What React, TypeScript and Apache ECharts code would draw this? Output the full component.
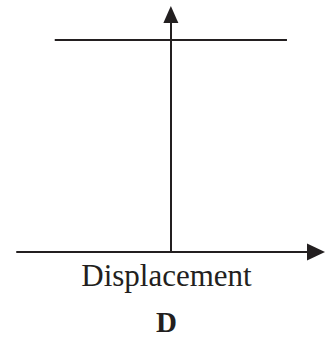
import React, { useEffect, useRef } from "react";
import * as echarts from "echarts";

// Axis ranges (value space)
const xRange = [-1.06, 1];
const yRange = [0, 1.12];
// Constant horizontal level line
const levelX = [-0.8, 0.8];
const levelY = [1, 1];
// Texts
const xAxisName = "Displacement";
const panelLabel = "D";

const INK = "#231f20";
const SERIF = "'Liberation Serif', 'Times New Roman', Times, serif";

export default function App() {
  const ref = useRef<HTMLDivElement>(null);
  useEffect(() => {
    if (!ref.current) return;
    const chart = echarts.init(ref.current, undefined, { renderer: "svg" });
    chart.setOption({
      animation: false,
      backgroundColor: "#ffffff",
      title: {
        text: panelLabel,
        left: 156,
        top: 307,
        padding: 0,
        textStyle: { fontFamily: SERIF, fontSize: 29, fontWeight: "bold", color: INK },
      },
      grid: { left: 17, right: 10, top: 14.5, bottom: 90, containLabel: false },
      xAxis: {
        type: "value",
        min: xRange[0],
        max: xRange[1],
        name: xAxisName,
        nameLocation: "middle",
        nameGap: 8,
        nameTextStyle: { fontFamily: SERIF, fontSize: 31, color: INK, verticalAlign: "top" },
        axisLine: {
          onZero: false,
          symbol: ["none", "triangle"],
          symbolSize: [17, 18],
          lineStyle: { color: INK, width: 2 },
        },
        axisTick: { show: false },
        axisLabel: { show: false },
        splitLine: { show: false },
      },
      yAxis: {
        type: "value",
        min: yRange[0],
        max: yRange[1],
        axisLine: {
          onZero: true,
          symbol: ["none", "triangle"],
          symbolSize: [15, 17],
          lineStyle: { color: INK, width: 2 },
        },
        axisTick: { show: false },
        axisLabel: { show: false },
        splitLine: { show: false },
      },
      series: [
        {
          type: "line",
          data: levelX.map((x, i) => [x, levelY[i]]),
          symbol: "none",
          silent: true,
          lineStyle: { color: INK, width: 2 },
        },
      ],
    });
    return () => chart.dispose();
  }, []);
  return (
    <div
      ref={ref}
      style={{ position: "fixed", left: 0, top: 0, width: 326, height: 342, background: "#fff" }}
    />
  );
}
